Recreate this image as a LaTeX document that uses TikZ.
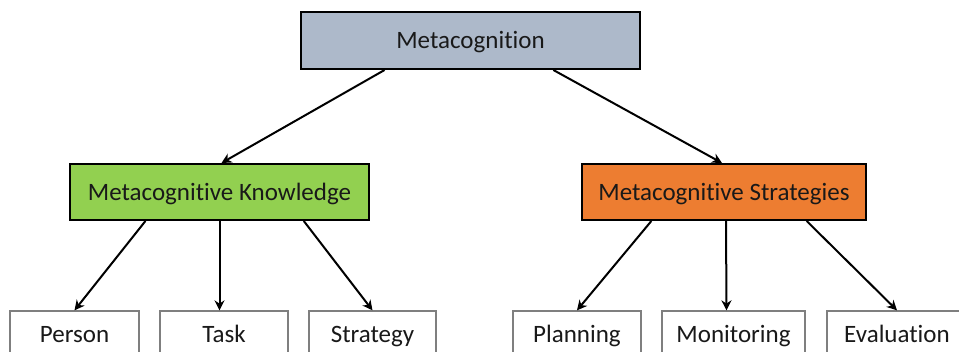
\documentclass[tikz,border=0pt]{standalone}
\usepackage{fontspec}
\setmainfont{Carlito}[Ligatures=NoCommon]
\usetikzlibrary{calc,arrows.meta}
\definecolor{topfill}{HTML}{ADB9CA}
\definecolor{kfill}{HTML}{92D050}
\definecolor{sfill}{HTML}{ED7D31}
\definecolor{leafline}{HTML}{7F7F7F}
\tikzset{
  boxtext/.style={font=\fontsize{25}{30}\selectfont,text=black!90,text height=17pt,text depth=0pt,inner sep=0pt},
  mainbox/.style={boxtext,draw=black,line width=2pt},
  leafbox/.style={boxtext,draw=leafline,line width=1.3pt,minimum height=46pt},
  arr/.style={line width=2pt,-{Stealth[length=10pt,width=10pt]}}
}
\begin{document}
\begin{tikzpicture}[x=1pt,y=-1pt]
\clip (0,0) rectangle (959,352);
\fill[white] (0,0) rectangle (959,352);
\node[mainbox,fill=topfill,minimum width=339pt,minimum height=57pt] (top) at (470.5,40.5) {Metacognition};
\node[mainbox,fill=kfill,minimum width=299pt,minimum height=56pt] (mk) at (219.5,192) {Metacognitive Knowledge};
\node[mainbox,fill=sfill,minimum width=284pt,minimum height=56pt] (ms) at (724,192) {Metacognitive Strategies};
\node[leafbox,minimum width=129pt] (person) at (74.5,334) {Person};
\node[leafbox,minimum width=128pt] (task) at (224,334) {Task};
\node[leafbox,minimum width=127pt] (strategy) at (372.5,334) {Strategy};
\node[leafbox,minimum width=128pt] (planning) at (577,334) {Planning};
\node[leafbox,minimum width=143pt] (monitoring) at (733.5,334) {Monitoring};
\node[leafbox,minimum width=140pt] (evaluation) at (897,334) {Evaluation};
\draw[arr] ($(top.south west)!0.248!(top.south east)$) -- ([xshift=2pt]mk.north);
\draw[arr] ($(top.south west)!0.743!(top.south east)$) -- ([xshift=-2pt]ms.north);
\draw[arr] ($(mk.south west)!0.254!(mk.south east)$) -- (person.north);
\draw[arr] (mk.south) -- ([xshift=-4.5pt]task.north);
\draw[arr] ($(mk.south west)!0.78!(mk.south east)$) -- (strategy.north);
\draw[arr] ($(ms.south west)!0.246!(ms.south east)$) -- (planning.north);
\draw[arr] ($(ms.south west)!0.507!(ms.south east)$) -- ([xshift=-7pt]monitoring.north);
\draw[arr] ($(ms.south west)!0.789!(ms.south east)$) -- (evaluation.north);
\end{tikzpicture}
\end{document}
